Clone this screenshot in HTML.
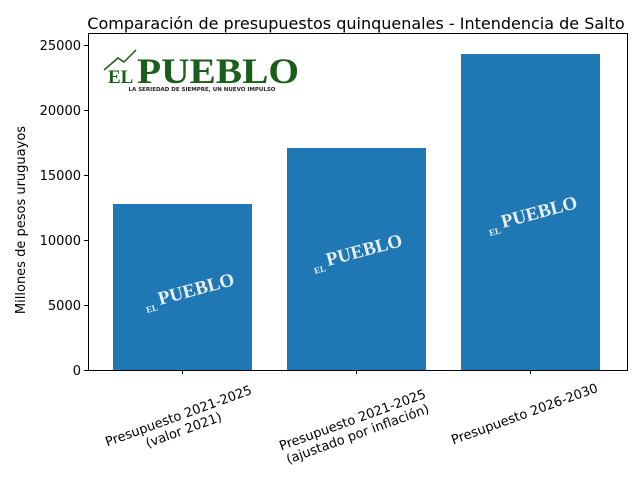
<!DOCTYPE html>
<html><head><meta charset="utf-8"><style>
body{margin:0;background:#fff;width:640px;height:480px;overflow:hidden}
.s{font-family:"DejaVu Sans","Liberation Sans",sans-serif}
.r{font-family:"Liberation Serif","DejaVu Serif",serif;font-weight:bold}
</style></head><body>
<svg width="640" height="480" xmlns="http://www.w3.org/2000/svg">
<rect width="640" height="480" fill="#fff"/>
<text class="s" x="356" y="29" font-size="16" text-anchor="middle" fill="#000">Comparación de presupuestos quinquenales - Intendencia de Salto</text>
<rect x="113" y="204" width="139" height="166" fill="#1f77b4"/>
<rect x="287" y="148" width="139" height="222" fill="#1f77b4"/>
<rect x="461" y="54" width="139" height="316" fill="#1f77b4"/>
<g fill="#e8eef5">
<text class="r" x="160" y="305" font-size="19" transform="rotate(-15 160 305)">PUEBLO</text>
<text class="r" x="147" y="313" font-size="9" transform="rotate(-15 147 313)">EL</text>
<text class="r" x="328" y="266" font-size="19" transform="rotate(-15 328 266)">PUEBLO</text>
<text class="r" x="315" y="274" font-size="9" transform="rotate(-15 315 274)">EL</text>
<text class="r" x="503" y="228" font-size="19" transform="rotate(-15 503 228)">PUEBLO</text>
<text class="r" x="490" y="236" font-size="9" transform="rotate(-15 490 236)">EL</text>
</g>
<g fill="#1b5e1b">
<path d="M104 70 L118 58 L124 62 L136 50" stroke="#1b5e1b" stroke-width="1.5" fill="none"/>
<text class="r" x="108" y="83" font-size="19">EL</text>
<text class="r" x="137" y="83" font-size="36" textLength="162" lengthAdjust="spacingAndGlyphs">PUEBLO</text>
</g>
<text class="s" x="202" y="91" font-size="5.5" text-anchor="middle" fill="#222" font-weight="bold">LA SERIEDAD DE SIEMPRE, UN NUEVO IMPULSO</text>
<rect x="88.5" y="33.5" width="539" height="337" fill="none" stroke="#000" stroke-width="1"/>
<g class="s" font-size="13" text-anchor="end" fill="#000">
<line x1="84" y1="370.5" x2="88" y2="370.5" stroke="#000"/><text x="81" y="375">0</text>
<line x1="84" y1="305.5" x2="88" y2="305.5" stroke="#000"/><text x="81" y="310">5000</text>
<line x1="84" y1="240.5" x2="88" y2="240.5" stroke="#000"/><text x="81" y="245">10000</text>
<line x1="84" y1="175.5" x2="88" y2="175.5" stroke="#000"/><text x="81" y="180">15000</text>
<line x1="84" y1="110.5" x2="88" y2="110.5" stroke="#000"/><text x="81" y="115">20000</text>
<line x1="84" y1="45.5" x2="88" y2="45.5" stroke="#000"/><text x="81" y="50">25000</text>
</g>
<text class="s" x="25" y="220" font-size="13" text-anchor="middle" transform="rotate(-90 25 220)">Millones de pesos uruguayos</text>
<g stroke="#000"><line x1="182.5" y1="370" x2="182.5" y2="374"/><line x1="356.5" y1="370" x2="356.5" y2="374"/><line x1="530.5" y1="370" x2="530.5" y2="374"/></g>
<g class="s" font-size="13" text-anchor="middle">
<g transform="translate(180,420) rotate(-20)"><text x="0" y="0">Presupuesto 2021-2025</text><text x="0" y="15">(valor 2021)</text></g>
<g transform="translate(354,424) rotate(-20)"><text x="0" y="0">Presupuesto 2021-2025</text><text x="0" y="15">(ajustado por inflación)</text></g>
<g transform="translate(526,418) rotate(-20)"><text x="0" y="0">Presupuesto 2026-2030</text></g>
</g>
</svg>
</body></html>
